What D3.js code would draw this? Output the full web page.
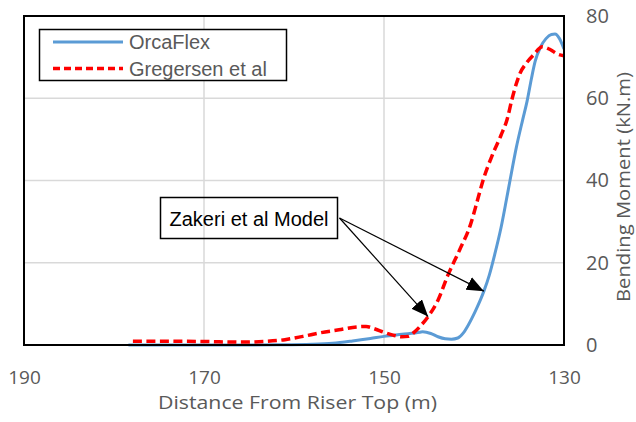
<!DOCTYPE html>
<html>
<head>
<meta charset="utf-8">
<script src="https://cdn.jsdelivr.net/npm/d3@7"></script>
<style>
  html, body { margin: 0; padding: 0; background: #fff; }
  svg { display: block; }
</style>
</head>
<body>
<svg id="chart" width="636" height="422"></svg>
<script>
// Bending moment along the riser: OrcaFlex vs. Gregersen et al
const orcaDistance = [178.4, 174, 170, 166, 162, 158, 155.7, 153.5, 151.5, 150, 148, 146, 145.7, 144.8, 144, 143.2, 142.5, 141.8, 141.2, 140.6, 139.9, 139.3, 138.9, 138.3, 137.7, 137, 136.4, 136, 135.3, 134.6, 134.1, 133.6, 133.2, 132.6, 132, 131.4, 131, 130.5, 130];
const orcaMoment   = [0, 0, 0, 0, 0.05, 0.2, 0.45, 1.0, 1.6, 2.1, 2.6, 3.1, 3.2, 2.8, 2.0, 1.5, 1.4, 1.7, 2.9, 5.0, 8.0, 10.9, 13.1, 17, 22, 28.5, 35.3, 40, 48, 54.7, 59.3, 65, 69, 72.5, 74.5, 75.5, 75.6, 74.5, 72];

const gregDistance = [177.9, 174, 170, 166, 163, 161, 159, 157, 155, 153, 152, 151, 150, 149, 148, 147.3, 146.6, 146, 145.1, 144, 142.9, 141.6, 140.4, 139.6, 139, 138, 137, 136.3, 135.8, 135.3, 134.9, 134.2, 133.4, 132.4, 131.5, 130.8, 130];
const gregMoment   = [0.9, 0.9, 0.85, 0.7, 0.9, 1.3, 2.1, 3.0, 3.7, 4.4, 4.5, 3.9, 3.1, 2.4, 2.0, 2.1, 3.2, 4.5, 6.9, 10.9, 17, 23.1, 29.2, 35.3, 40, 46, 51, 55, 59.6, 63.5, 66, 68.5, 70.5, 72.5, 71.8, 70.8, 70.3];

const xTicks = [190, 170, 150, 130];
const yTicks = [0, 20, 40, 60, 80];
const seriesNames = ["OrcaFlex", "Gregersen et al"];
const noteText = "Zakeri et al Model";
// arrow targets on the two curves (distance, moment)
const noteTargets = [[145.1, 6.9], [138.9, 13.1]];

const svg = d3.select("#chart");
const plot = { left: 24, right: 564, top: 16, bottom: 345 };

const x = d3.scaleLinear().domain([190, 130]).range([plot.left, plot.right]);
const y = d3.scaleLinear().domain([0, 80]).range([plot.bottom, plot.top]);

const tickFont = "'Open Sans', 'Noto Sans', sans-serif";
const labelColor = "#595959";

// gridlines
const grid = svg.append("g");
grid.selectAll("line.h").data(yTicks.slice(1, -1)).join("line")
  .attr("x1", plot.left).attr("x2", plot.right)
  .attr("y1", d => y(d)).attr("y2", d => y(d))
  .attr("stroke", "#d9d9d9").attr("stroke-width", 1.5);
grid.selectAll("line.v").data(xTicks.slice(1, -1)).join("line")
  .attr("y1", plot.top).attr("y2", plot.bottom)
  .attr("x1", d => x(d)).attr("x2", d => x(d))
  .attr("stroke", "#d9d9d9").attr("stroke-width", 1.5);

// x axis labels
const xAxis = d3.axisBottom(x).tickValues(xTicks).tickSize(0).tickPadding(0);
svg.append("g")
  .attr("transform", `translate(0,${plot.bottom + 25})`)
  .call(xAxis)
  .call(g => g.select(".domain").remove())
  .call(g => g.selectAll("text")
    .attr("font-family", tickFont).attr("font-size", 19)
    .attr("fill", labelColor).attr("dy", "0.71em").attr("y", 0));

// y axis labels on the right, left aligned
const yAxis = d3.axisRight(y).tickValues(yTicks).tickSize(0).tickPadding(0);
svg.append("g")
  .attr("transform", `translate(${plot.right + 22},0)`)
  .call(yAxis)
  .call(g => g.select(".domain").remove())
  .call(g => g.selectAll("text")
    .attr("font-family", tickFont).attr("font-size", 20)
    .attr("fill", labelColor).attr("text-anchor", "start"));

// axis titles
svg.append("text")
  .attr("x", 297.5).attr("y", 409)
  .attr("text-anchor", "middle")
  .attr("font-family", tickFont).attr("font-size", 18).attr("fill", labelColor)
  .attr("textLength", 279).attr("lengthAdjust", "spacingAndGlyphs")
  .text("Distance From Riser Top (m)");
svg.append("text")
  .attr("transform", `translate(630,187) rotate(-90)`)
  .attr("text-anchor", "middle")
  .attr("font-family", tickFont).attr("font-size", 18).attr("fill", labelColor)
  .attr("textLength", 230).attr("lengthAdjust", "spacingAndGlyphs")
  .text("Bending Moment (kN.m)");

// series
svg.append("clipPath").attr("id", "plotclip").append("rect")
  .attr("x", plot.left).attr("y", plot.top - 5)
  .attr("width", plot.right - plot.left).attr("height", plot.bottom - plot.top + 10);

const line = d3.line().x(d => x(d[0])).y(d => y(d[1])).curve(d3.curveMonotoneX);
const series = svg.append("g").attr("clip-path", "url(#plotclip)");

series.append("path")
  .datum(orcaDistance.map((d, i) => [d, orcaMoment[i]]))
  .attr("d", line).attr("fill", "none")
  .attr("stroke", "#5b9bd5").attr("stroke-width", 3).attr("stroke-linejoin", "round");

series.append("path")
  .datum(gregDistance.map((d, i) => [d, gregMoment[i]]))
  .attr("d", line).attr("fill", "none")
  .attr("stroke", "#ff0000").attr("stroke-width", 3.5)
  .attr("stroke-dasharray", "9,4.5");

// plot frame
svg.append("rect")
  .attr("x", plot.left).attr("y", plot.top)
  .attr("width", plot.right - plot.left).attr("height", plot.bottom - plot.top)
  .attr("fill", "none").attr("stroke", "#000").attr("stroke-width", 2);

// legend
const legend = svg.append("g");
legend.append("rect")
  .attr("x", 39.5).attr("y", 29.5).attr("width", 247).attr("height", 51)
  .attr("fill", "#fff").attr("stroke", "#000").attr("stroke-width", 1.5);
const legendStyles = [
  { stroke: "#5b9bd5", width: 3, dash: null },
  { stroke: "#ff0000", width: 3.5, dash: "7,4" }
];
seriesNames.forEach((name, i) => {
  const cy = 42 + i * 26.5;
  legend.append("line")
    .attr("x1", 53).attr("x2", 123).attr("y1", cy).attr("y2", cy)
    .attr("stroke", legendStyles[i].stroke).attr("stroke-width", legendStyles[i].width)
    .attr("stroke-dasharray", legendStyles[i].dash);
  legend.append("text")
    .attr("x", 129).attr("y", cy + 7)
    .attr("font-family", "'Liberation Sans', Arial, sans-serif").attr("font-size", 20)
    .attr("fill", labelColor).text(name);
});

// callout with arrows
svg.append("defs").append("marker")
  .attr("id", "arrowhead")
  .attr("markerUnits", "userSpaceOnUse")
  .attr("viewBox", "0 0 17 14").attr("refX", 17).attr("refY", 7)
  .attr("markerWidth", 17).attr("markerHeight", 14)
  .attr("orient", "auto")
  .append("path").attr("d", "M0,0L17,7L0,14Z").attr("fill", "#000");

const note = { x: 160.5, y: 197.5, w: 177, h: 41 };
const origin = [note.x + note.w + 2, note.y + 20.5];
svg.selectAll("line.arrow").data(noteTargets).join("line")
  .attr("class", "arrow")
  .attr("x1", origin[0]).attr("y1", origin[1])
  .attr("x2", d => x(d[0])).attr("y2", d => y(d[1]))
  .attr("stroke", "#000").attr("stroke-width", 1.2)
  .attr("marker-end", "url(#arrowhead)");

svg.append("rect")
  .attr("x", note.x).attr("y", note.y).attr("width", note.w).attr("height", note.h)
  .attr("fill", "none").attr("stroke", "#000").attr("stroke-width", 1.5);
svg.append("text")
  .attr("x", note.x + note.w / 2).attr("y", note.y + 28)
  .attr("text-anchor", "middle")
  .attr("font-family", "'Liberation Sans', Arial, sans-serif").attr("font-size", 20)
  .attr("fill", "#000").text(noteText);
</script>
</body>
</html>
